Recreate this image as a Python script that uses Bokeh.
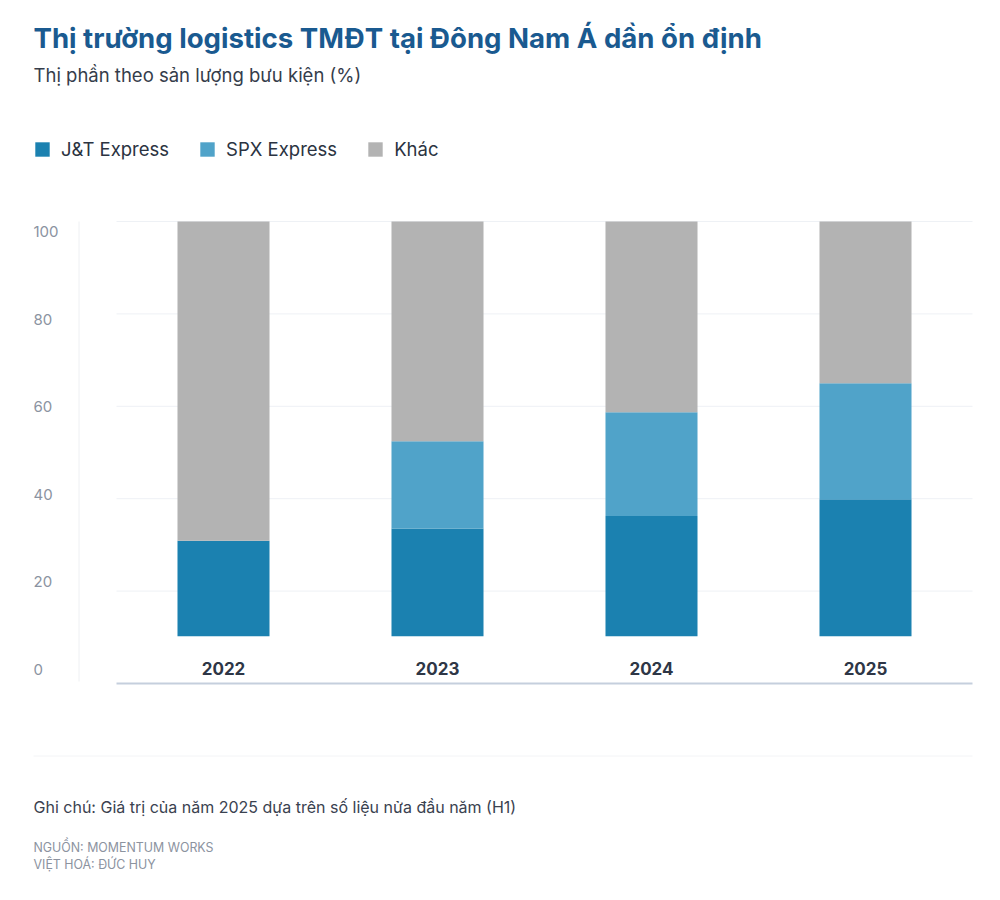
from bokeh.plotting import figure
from bokeh.models import (ColumnDataSource, Range1d, Label, LabelSet, Legend, LegendItem)
from bokeh.core.properties import value
from bokeh.embed import file_html
from bokeh.resources import INLINE

# ---------------- data ----------------
years = ["2022", "2023", "2024", "2025"]
jt_express = [23, 26, 29, 33]
spx_express = [0, 21, 25, 28]
khac = [77, 53, 46, 39]
series_names = ["J&T Express", "SPX Express", "Khác"]
y_ticks = [0, 20, 40, 60, 80, 100]

title_text = "Thị trường logistics TMĐT tại Đông Nam Á dần ổn định"
subtitle_text = "Thị phần theo sản lượng bưu kiện (%)"
note_text = "Ghi chú: Giá trị của năm 2025 dựa trên số liệu nửa đầu năm (H1)"
source_lines = ["NGUỒN: MOMENTUM WORKS", "VIỆT HOÁ: ĐỨC HUY"]

colors = ["#1b81b0", "#50a3c9", "#b3b3b3"]
FONT = "Inter"

W, H = 1000, 900

# ---------------- layout helpers (pixel -> data) ----------------
# category centres at 223 + 214*i (px)
def X(px):
    return (px - 223) / 214.0

# main (grid) scale: 0 at 683px, 100 at 221px
def YG(py):
    return (683 - py) / 4.62
# bar scale: 0 at 635.7px, 100 at 221px
def YB(py):
    return (635.7 - py) / 4.147
# tick-label scale: 0 at 669px, 100 at 231px
def YT(py):
    return (669 - py) / 4.38

p = figure(width=W, height=H, output_backend="svg", toolbar_location=None,
           x_axis_location=None, y_axis_location=None, title=None,
           x_range=Range1d(X(0), X(W)), y_range=Range1d(YG(H), YG(0)),
           min_border=0, outline_line_color=None)
p.grid.visible = False
p.background_fill_color = "white"
p.border_fill_color = "white"
p.extra_y_ranges = {"bars": Range1d(YB(H), YB(0)), "ticks": Range1d(YT(H), YT(0))}

idx = list(range(len(years)))

# gridlines
grid_vals = y_ticks[1:]
p.segment(x0=[X(116)] * len(grid_vals), x1=[X(972)] * len(grid_vals),
          y0=grid_vals, y1=grid_vals, line_color="#eef1f5", line_width=1)
# left vertical rule
p.segment(x0=[X(78.5)], x1=[X(78.5)], y0=[YG(681)], y1=[y_ticks[-1]],
          line_color="#eef0f3", line_width=1)
# faint separator above the notes
p.segment(x0=[X(33)], x1=[X(972)], y0=[YG(755.5)], y1=[YG(755.5)],
          line_color="#f3f4f6", line_width=1)

# bars
src = ColumnDataSource(dict(x=idx, years=years, jt=jt_express, spx=spx_express, khac=khac))
rs = p.vbar_stack(["jt", "spx", "khac"], x="x", width=0.43, color=colors,
                  source=src, y_range_name="bars", line_color=None)

# baseline axis line
p.segment(x0=[X(116)], x1=[X(972)], y0=[y_ticks[0]], y1=[y_ticks[0]],
          line_color="#c5cfdd", line_width=2)

# year labels
p.text(x="x", y=YB(667.5), text="years", source=src, y_range_name="bars",
       text_font=value(FONT), text_font_style="bold", text_font_size="17px",
       text_color="#2e3646", text_align="center", text_baseline="middle")

# y tick labels
tick_src = ColumnDataSource(dict(y=y_ticks, t=[str(v) for v in y_ticks],
                                 x=[X(33)] * len(y_ticks)))
p.add_layout(LabelSet(x="x", y="y", text="t", source=tick_src, y_range_name="ticks",
                      text_font=value(FONT), text_font_size="15px", text_color="#8b93a1",
                      text_align="left", text_baseline="middle"))

# title, subtitle, notes (y = visual centre of capitals, px)
def add_label(text, x_px, y_mid, size, color, style="normal"):
    p.add_layout(Label(x=X(x_px), y=YG(y_mid), text=text, text_font=FONT,
                       text_font_size=size, text_color=color, text_font_style=style,
                       text_align="left", text_baseline="middle"))

add_label(title_text, 33, 37.3, "27.6px", "#1a5a90", "bold")
add_label(subtitle_text, 33, 74.5, "18.5px", "#353d4b")
add_label(note_text, 33, 806, "16px", "#3a4250")
add_label(source_lines[0], 33, 846.5, "12.4px", "#8c939f")
add_label(source_lines[1], 33, 864, "12.4px", "#8c939f")

# legend
legend = Legend(items=[LegendItem(label=n, renderers=[r]) for n, r in zip(series_names, rs)],
                location=(33, H - 160), orientation="horizontal",
                glyph_width=18, glyph_height=18, label_height=18, label_standoff=10,
                spacing=29, padding=0, margin=0, border_line_color=None,
                background_fill_alpha=0, label_text_font=FONT, label_text_font_size="18.5px",
                label_text_color="#2b3341")
p.add_layout(legend)

open("out.html", "w").write(file_html(p, INLINE))
